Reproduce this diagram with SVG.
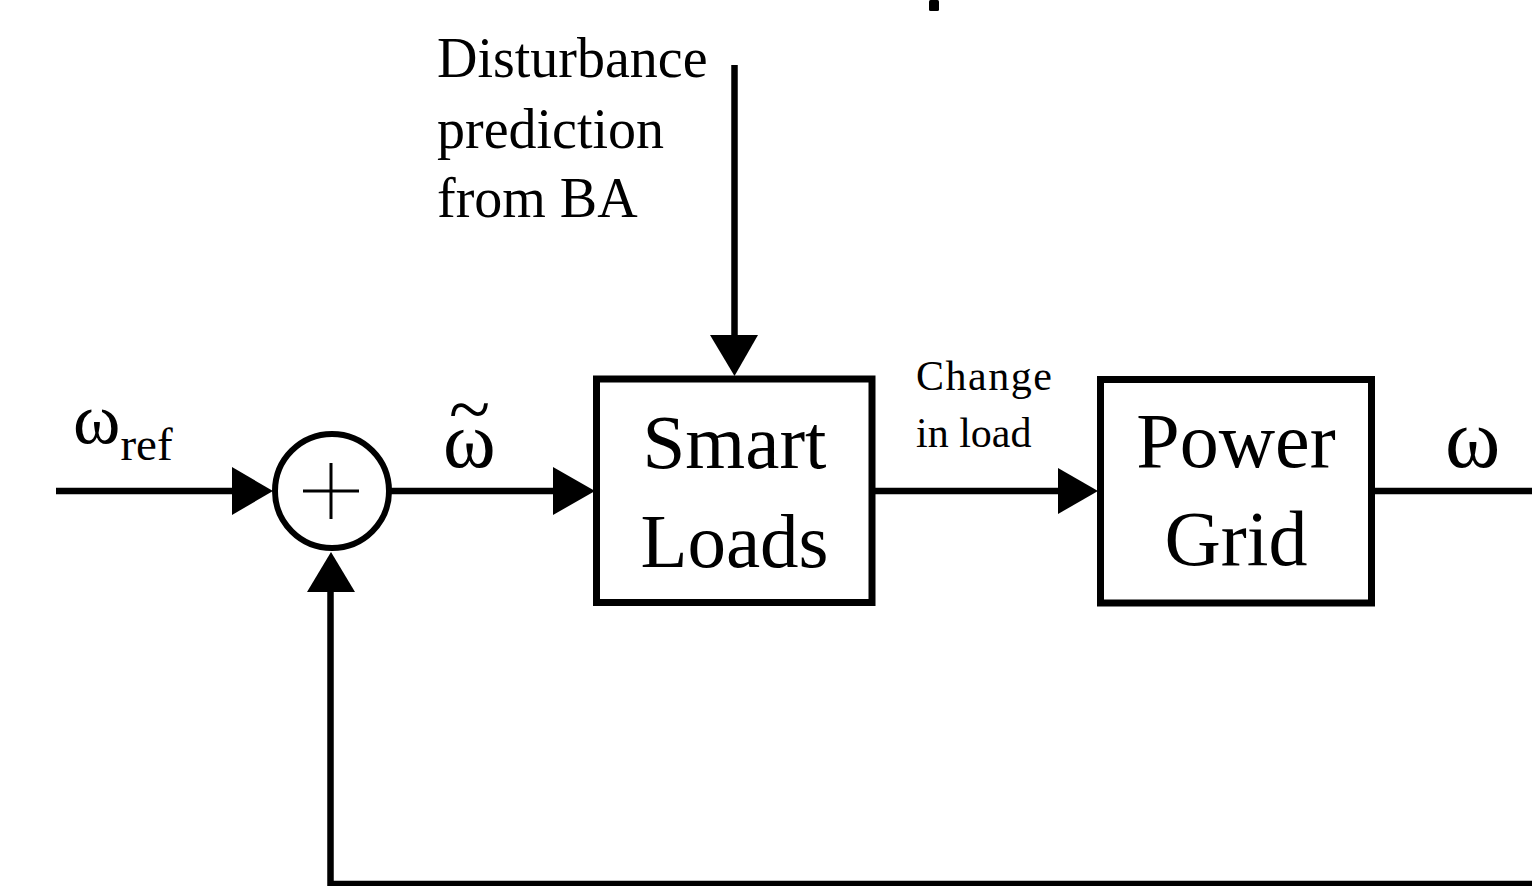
<svg xmlns="http://www.w3.org/2000/svg" width="1532" height="886" viewBox="0 0 1532 886">
<style>
.ln{stroke:#000;stroke-width:6.5;fill:none}
.box{stroke:#000;stroke-width:7;fill:#fff}
.t{font-family:"Liberation Serif","Times New Roman",serif;fill:#000}
.ah{fill:#000}
</style>
<rect width="1532" height="886" fill="#fff"/>
<rect x="929" y="0" width="10" height="11" rx="1.5" fill="#000"/>
<g id="connectors">
<line class="ln" x1="56" y1="491" x2="240" y2="491"/>
<polygon class="ah" points="232,467 273,491 232,515"/>
<line class="ln" x1="389" y1="491" x2="560" y2="491"/>
<polygon class="ah" points="553,467 595,491 553,515"/>
<line class="ln" x1="734.5" y1="65" x2="734.5" y2="340"/>
<polygon class="ah" points="710,335 758,335 734.5,376"/>
<line class="ln" x1="875" y1="491" x2="1065" y2="491"/>
<polygon class="ah" points="1058,468 1098,491 1058,514"/>
<line class="ln" x1="1375" y1="491" x2="1532" y2="491"/>
<polyline class="ln" points="1532,884 330.5,884 330.5,585"/>
<polygon class="ah" points="307,592 355,592 331,552"/>
</g>
<g id="sum">
<circle cx="332" cy="491" r="57" fill="#fff" stroke="#000" stroke-width="6"/>
<line x1="303" y1="491" x2="359" y2="491" stroke="#000" stroke-width="3"/>
<line x1="331" y1="463" x2="331" y2="519" stroke="#000" stroke-width="3"/>
</g>
<g id="smart-loads">
<rect class="box" x="596.5" y="379" width="275.5" height="223.5"/>
<text class="t" x="734.5" y="468" font-size="77" text-anchor="middle">Smart</text>
<text class="t" x="734.5" y="567" font-size="77" text-anchor="middle">Loads</text>
</g>
<g id="power-grid">
<rect class="box" x="1100.5" y="379.5" width="271" height="223.5"/>
<text class="t" x="1236" y="467" font-size="78" text-anchor="middle">Power</text>
<text class="t" x="1236" y="565" font-size="78" text-anchor="middle">Grid</text>
</g>
<g id="labels">
<text class="t" x="437" y="77" font-size="56">Disturbance</text>
<text class="t" x="437" y="148" font-size="56">prediction</text>
<text class="t" x="437" y="217" font-size="56">from BA</text>
<text class="t" x="916" y="390" font-size="42" letter-spacing="1.5">Change</text>
<text class="t" x="916" y="447" font-size="42">in load</text>
<text class="t" x="73" y="443" font-size="72">ω<tspan font-size="47" dy="17">ref</tspan></text>
<text class="t" x="443" y="467" font-size="80">ω<tspan x="449" y="435" font-size="76">~</tspan></text>
<text class="t" x="1445" y="467" font-size="84">ω</text>
</g>
</svg>
